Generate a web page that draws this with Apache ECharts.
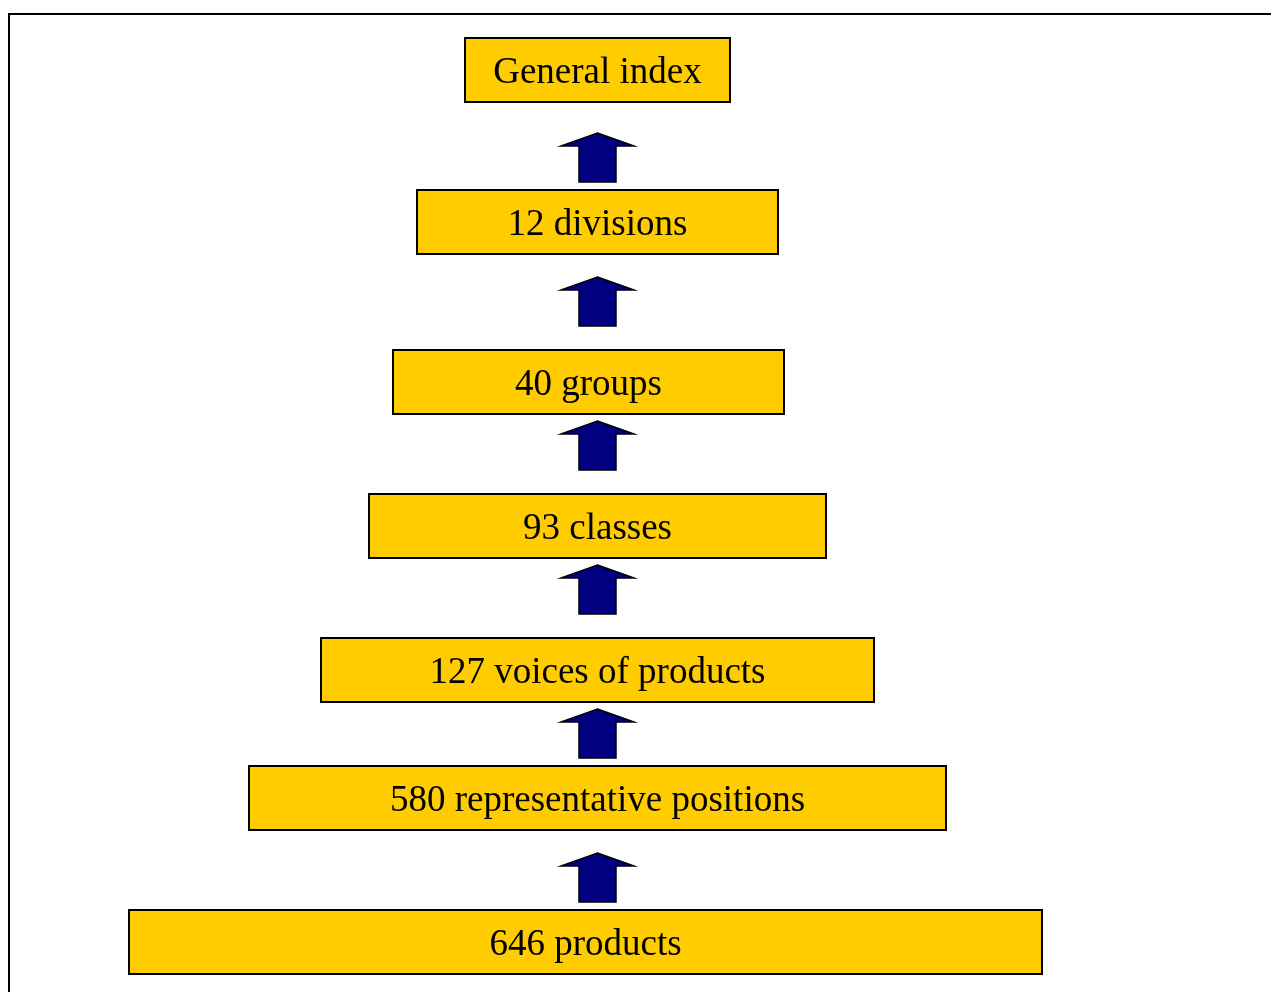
<!DOCTYPE html>
<html>
<head>
<meta charset="utf-8">
<script src="https://cdn.jsdelivr.net/npm/echarts@6/dist/echarts.min.js"></script>
<style>
html,body{margin:0;padding:0;background:#fff;}
#chart{width:1271px;height:992px;}
</style>
</head>
<body>
<div id="chart"></div>
<script>
// Hierarchy levels (top to bottom)
const levelLabels = ["General index","12 divisions","40 groups","93 classes","127 voices of products","580 representative positions","646 products"];
const boxLeft   = [465, 417, 393, 369, 321, 249, 129];
const boxRight  = [730, 778, 784, 826, 874, 946, 1042];
const boxTop    = [38, 190, 350, 494, 638, 766, 910];
const boxBottom = [102, 254, 414, 558, 702, 830, 974];
// Arrows between levels
const arrowX    = [597.5, 597.5, 597.5, 597.5, 597.5, 597.5];
const arrowTip  = [133, 277, 421, 565, 709, 853];
const arrowBase = [182, 326, 470, 614, 758, 902];

const boxData = levelLabels.map((t,i)=>[boxLeft[i], boxRight[i], boxTop[i], boxBottom[i], t]);
const arrowData = arrowX.map((x,i)=>[x, arrowTip[i], arrowBase[i]]);

const chart = echarts.init(document.getElementById('chart'), null, {renderer:'canvas'});
chart.setOption({
  backgroundColor:'#ffffff',
  animation:false,
  grid:{left:0,right:0,top:0,bottom:0},
  xAxis:{type:'value',min:0,max:1271,show:false},
  yAxis:{type:'value',min:0,max:992,inverse:true,show:false},
  graphic:[{
    type:'rect', z:0, silent:true,
    shape:{x:9,y:14,width:1400,height:1200},
    style:{fill:'none',stroke:'#000',lineWidth:2}
  }],
  series:[
    {
      type:'custom',
      coordinateSystem:'cartesian2d',
      data:boxData,
      encode:{x:[0,1],y:[2,3]},
      renderItem:function(params, api){
        const p1 = api.coord([api.value(0), api.value(2)]);
        const p2 = api.coord([api.value(1), api.value(3)]);
        const label = levelLabels[params.dataIndex];
        return {
          type:'group',
          children:[
            {type:'rect', shape:{x:p1[0],y:p1[1],width:p2[0]-p1[0],height:p2[1]-p1[1]},
             style:{fill:'#FFCC00',stroke:'#000',lineWidth:2}},
            {type:'text', style:{x:(p1[0]+p2[0])/2, y:(p1[1]+p2[1])/2+3.5, text:label,
              fill:'#000', font:'37px "Liberation Serif", "Times New Roman", serif',
              textAlign:'center', textVerticalAlign:'middle'}}
          ]
        };
      }
    },
    {
      type:'custom',
      coordinateSystem:'cartesian2d',
      data:arrowData,
      encode:{x:0,y:[1,2]},
      renderItem:function(params, api){
        const tip = api.coord([api.value(0), api.value(1)]);
        const base = api.coord([api.value(0), api.value(2)]);
        const cx = tip[0];
        const headH = 13, headW = 36.5, shaftW = 18.5;
        const hy = tip[1] + headH;
        const pts = [
          [cx, tip[1]], [cx+headW, hy], [cx+shaftW, hy], [cx+shaftW, base[1]],
          [cx-shaftW, base[1]], [cx-shaftW, hy], [cx-headW, hy]
        ];
        return {type:'polygon', shape:{points:pts},
          style:{fill:'#000080',stroke:'#000',lineWidth:1.5}};
      }
    }
  ]
});
</script>
</body>
</html>
